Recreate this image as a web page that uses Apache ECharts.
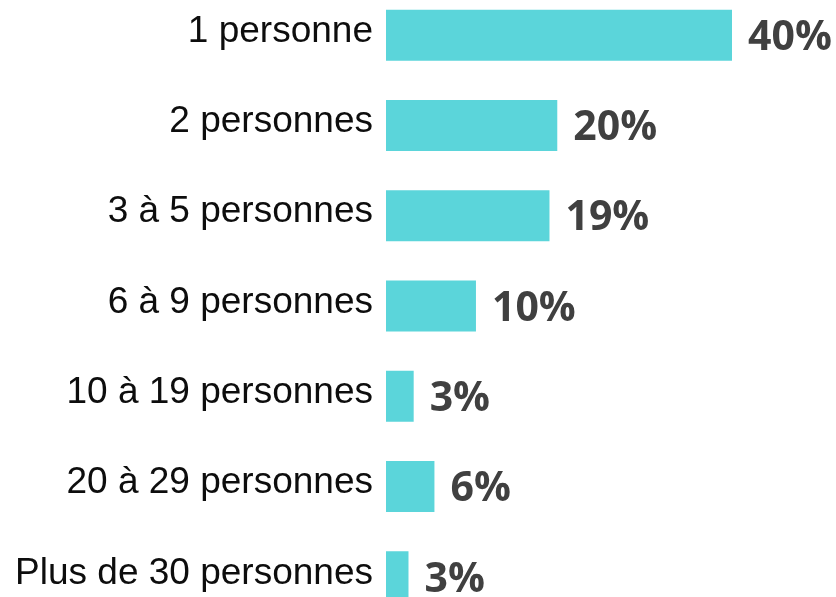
<!DOCTYPE html>
<html>
<head>
<meta charset="utf-8">
<script src="https://cdn.jsdelivr.net/npm/echarts@6/dist/echarts.min.js"></script>
<style>
  html, body { margin: 0; padding: 0; background: #fff; overflow: hidden; }
  /* the chart runs past the bottom of the picture, so the box is taller than the window */
  #chart { position: absolute; left: 0; top: -10px; width: 836px; height: 632px; }
</style>
</head>
<body>
<div id="chart"></div>
<script>
// categories, top to bottom
const categories = [
  '1 personne',
  '2 personnes',
  '3 à 5 personnes',
  '6 à 9 personnes',
  '10 à 19 personnes',
  '20 à 29 personnes',
  'Plus de 30 personnes'
]
// share (%), labels show rounded values
const shares = [40, 19.8, 18.9, 10.4, 3.2, 5.6, 2.6]

let myChart = echarts.init(document.getElementById('chart'))
let option = {
  animation: false,
  grid: {
    left: 386,
    right: 104,
    top: 0,
    bottom: 0
  },
  xAxis: {
    type: 'value',
    min: 0,
    max: 40,
    show: false
  },
  yAxis: {
    type: 'category',
    inverse: true,
    data: categories,
    axisLine: { show: false },
    axisTick: { show: false },
    splitLine: { show: false },
    axisLabel: {
      margin: 13,
      color: '#0d0d0d',
      fontFamily: 'Liberation Sans, Arial, sans-serif',
      fontSize: 37,
      // names sit a little above the bar middle
      verticalAlign: 'bottom',
      lineHeight: 7
    }
  },
  series: [{
    type: 'bar',
    data: shares,
    barWidth: 51,
    itemStyle: {
      color: '#5bd5da'
    },
    label: {
      show: true,
      position: 'right',
      distance: 16,
      offset: [0, 3],
      color: '#404040',
      fontFamily: 'Open Sans, sans-serif',
      fontWeight: 'bold',
      fontSize: 41,
      formatter: function (p) {
        return Math.round(p.value) + '%'
      }
    }
  }]
}
myChart.setOption(option, true)
</script>
</body>
</html>
